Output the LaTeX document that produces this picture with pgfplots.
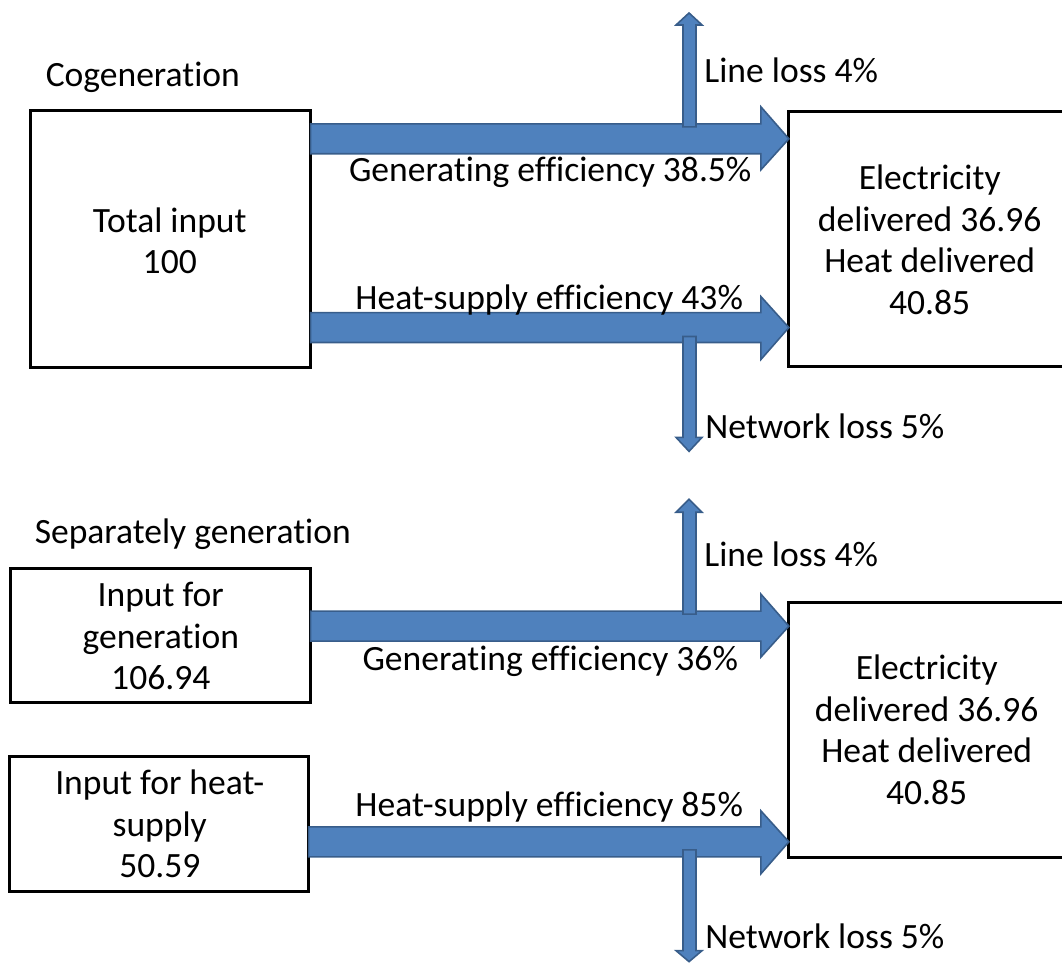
\documentclass[border=0pt]{standalone}
\usepackage{fontspec}
\setmainfont{Carlito}[Ligatures=NoCommon]
\usepackage{pgfplots}
\pgfplotsset{compat=1.18}
\definecolor{arrfill}{RGB}{79,129,189}
\definecolor{arrdraw}{RGB}{56,93,138}
\tikzset{lbl/.style={font=\fontsize{17.8}{20.8}\selectfont, inner sep=0pt}}
\begin{document}
\begin{tikzpicture}
\begin{axis}[hide axis, clip=false, scale only axis,
  x=0.5pt, y=0.5pt, y dir=reverse,
  xmin=0, xmax=1063, ymin=0, ymax=963]
\path (axis cs:0,0) rectangle (axis cs:1063,963);
% ---- boxes ----
\addplot[black, line width=1.5pt, mark=none] coordinates {(31,111)(311,111)(311,368)(31,368)} -- cycle;
\addplot[black, line width=1.5pt, mark=none] coordinates {(1063,112)(790,112)(790,367)(1063,367)};
\addplot[black, line width=1.5pt, mark=none] coordinates {(11,569)(311,569)(311,703)(11,703)} -- cycle;
\addplot[black, line width=1.5pt, mark=none] coordinates {(10,758)(309,758)(309,893)(10,893)} -- cycle;
\addplot[black, line width=1.5pt, mark=none] coordinates {(1063,603)(790,603)(790,859)(1063,859)};
% ---- main arrows ----
\addplot[fill=arrfill, draw=arrdraw, line width=0.8pt, mark=none] coordinates {(311,124)(762,124)(762,107)(790,139)(762,170)(762,154)(311,154)} -- cycle;
\addplot[fill=arrfill, draw=arrdraw, line width=0.8pt, mark=none] coordinates {(311,313)(762,313)(762,297)(790,328)(762,360)(762,343)(311,343)} -- cycle;
\addplot[fill=arrfill, draw=arrdraw, line width=0.8pt, mark=none] coordinates {(311,612)(762,612)(762,595)(790,627)(762,658)(762,642)(311,642)} -- cycle;
\addplot[fill=arrfill, draw=arrdraw, line width=0.8pt, mark=none] coordinates {(309,828)(762,828)(762,812)(790,843)(762,875)(762,858)(309,858)} -- cycle;
% ---- loss arrows ----
\addplot[fill=arrfill, draw=arrdraw, line width=0.8pt, mark=none] coordinates {(684,127)(684,25)(677,25)(690,13)(703,25)(697,25)(697,127)} -- cycle;
\addplot[fill=arrfill, draw=arrdraw, line width=0.8pt, mark=none] coordinates {(684,337)(684,438)(677,438)(690,452)(703,438)(697,438)(697,337)} -- cycle;
\addplot[fill=arrfill, draw=arrdraw, line width=0.8pt, mark=none] coordinates {(684,615)(684,513)(677,513)(690,500)(703,513)(697,513)(697,615)} -- cycle;
\addplot[fill=arrfill, draw=arrdraw, line width=0.8pt, mark=none] coordinates {(684,851)(684,952)(677,952)(690,963)(703,952)(697,952)(697,851)} -- cycle;
% ---- texts ----
\node[lbl] at (axis cs:143,77) {Cogeneration};
\node[lbl, align=center] at (axis cs:170,241) {Total input\\100};
\node[lbl, align=center] at (axis cs:931,240) {Electricity\\delivered 36.96\\Heat delivered\\40.85};
\node[lbl] at (axis cs:551,173) {Generating efficiency 38.5\%};
\node[lbl] at (axis cs:550,300) {Heat-supply efficiency 43\%};
\node[lbl, anchor=west] at (axis cs:705,70) {Line loss 4\%};
\node[lbl, anchor=west] at (axis cs:706,427) {Network loss 5\%};
\node[lbl] at (axis cs:193,535) {Separately generation};
\node[lbl, align=center] at (axis cs:161,637) {Input for\\generation\\106.94};
\node[lbl, align=center] at (axis cs:160,825) {Input for heat-\\supply\\50.59};
\node[lbl, align=center] at (axis cs:928,731) {Electricity\\delivered 36.96\\Heat delivered\\40.85};
\node[lbl] at (axis cs:551,662) {Generating efficiency 36\%};
\node[lbl] at (axis cs:550,808) {Heat-supply efficiency 85\%};
\node[lbl, anchor=west] at (axis cs:705,555) {Line loss 4\%};
\node[lbl, anchor=west] at (axis cs:706,938) {Network loss 5\%};
\end{axis}
\end{tikzpicture}
\end{document}
